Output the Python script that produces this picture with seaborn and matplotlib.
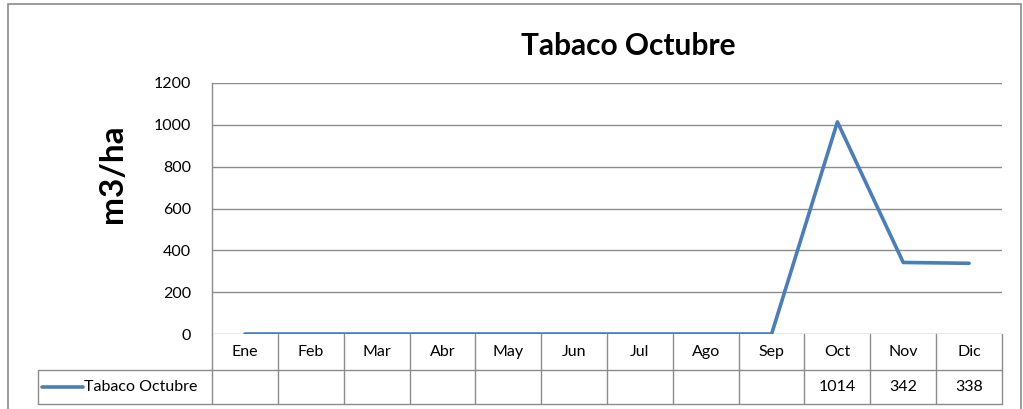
import numpy as np
import pandas as pd
import matplotlib
matplotlib.use("Agg")
import matplotlib.pyplot as plt
import matplotlib.transforms as mtransforms
from matplotlib.lines import Line2D
from matplotlib.patches import Rectangle
import seaborn as sns

# Data
meses = ['Ene', 'Feb', 'Mar', 'Abr', 'May', 'Jun', 'Jul', 'Ago', 'Sep', 'Oct', 'Nov', 'Dic']
valores = [0, 0, 0, 0, 0, 0, 0, 0, 0, 1014, 342, 338]
etiquetas_tabla = ['', '', '', '', '', '', '', '', '', '1014', '342', '338']
serie = 'Tabaco Octubre'
yticks = [0, 200, 400, 600, 800, 1000, 1200]

df = pd.DataFrame({'pos': np.arange(len(meses)), 'valor': valores})

sns.set_style('white')
plt.rcParams['font.family'] = ['Lato', 'DejaVu Sans']
plt.rcParams['text.color'] = 'black'
plt.rcParams['ytick.color'] = 'black'
plt.rcParams['ytick.labelcolor'] = 'black'

W, H = 1023, 409
fig = plt.figure(figsize=(W / 100, H / 100), dpi=100)

# chart border
fig.add_artist(Rectangle((8 / W, -0.1), (1021 - 8) / W, 1.1 - 4 / H,
                         transform=fig.transFigure, fill=False,
                         edgecolor='#8a8a8a', lw=1.2))

ax = fig.add_axes([212 / W, (H - 334) / H, (1002 - 212) / W, (334 - 83) / H])
color = '#4a7ebb'
grid = '#8c8c8c'
fs = 11.5

sns.lineplot(data=df, x='pos', y='valor', ax=ax, color=color, lw=2.6)
ax.set_xlim(-0.5, len(meses) - 0.5)
ax.set_ylim(0, 1200)
ax.set_yticks(yticks)
ax.set_yticklabels([str(v) for v in yticks], fontsize=fs, color='black')
ax.tick_params(axis='y', length=0, pad=15)
ax.set_xticks([])
ax.set_xlabel('')
ax.set_ylabel('')
for v in yticks:
    ax.axhline(v, color=grid, lw=1, zorder=0)
for s in ['top', 'right', 'bottom']:
    ax.spines[s].set_visible(False)
ax.spines['left'].set_color(grid)
ax.spines['left'].set_linewidth(1)

fig.text(628 / W, (H - 46) / H, 'Tabaco Octubre', fontsize=21.5, fontweight='bold',
         ha='center', va='center', color='black')
fig.text(113 / W, (H - 174) / H, 'm3/ha', fontsize=24, fontweight='bold',
         rotation=90, ha='center', va='center', color='black')

# data table below the plot
tr = mtransforms.blended_transform_factory(ax.transData, ax.transAxes)
ah = 334 - 83
r1 = -36 / ah
r2 = -70 / ah
n = len(meses)
xl = -0.5 + (38 - 212) / ((1002 - 212) / n)
for i in range(n + 1):
    ax.add_line(Line2D([i - 0.5, i - 0.5], [0, r2], transform=tr, color=grid,
                       lw=1, clip_on=False))
ax.add_line(Line2D([-0.5, n - 0.5], [r1, r1], transform=tr, color=grid, lw=1, clip_on=False))
ax.add_line(Line2D([xl, n - 0.5], [r2, r2], transform=tr, color=grid, lw=1, clip_on=False))
ax.add_line(Line2D([xl, -0.5], [r1, r1], transform=tr, color=grid, lw=1, clip_on=False))
ax.add_line(Line2D([xl, xl], [r1, r2], transform=tr, color=grid, lw=1, clip_on=False))
for i, (m, t) in enumerate(zip(meses, etiquetas_tabla)):
    ax.text(i, r1 / 2, m, transform=tr, ha='center', va='center', fontsize=fs, color='black')
    ax.text(i, (r1 + r2) / 2, t, transform=tr, ha='center', va='center', fontsize=fs,
            color='black')

# legend key inside the table
ym = (r1 + r2) / 2
ax.add_line(Line2D([xl + 0.06, xl + 0.68], [ym, ym], transform=tr, color=color,
                   lw=2.6, clip_on=False))
ax.text(xl + 0.7, ym, serie, transform=tr, ha='left', va='center', fontsize=fs,
        color='black')

fig.savefig('out.png', dpi=100)
